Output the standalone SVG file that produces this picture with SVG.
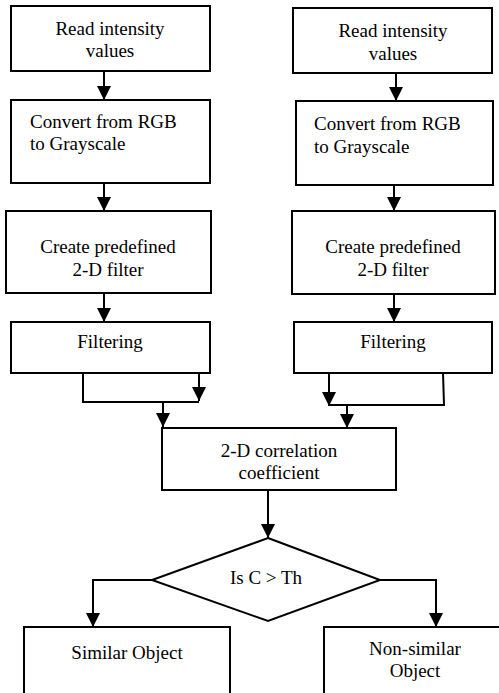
<svg xmlns="http://www.w3.org/2000/svg" width="499" height="693" viewBox="0 0 499 693">
<style>
.box{fill:#fff;stroke:#000;stroke-width:2}
.ln{fill:none;stroke:#000;stroke-width:2}
text{font-size:19px;fill:#000}
.c{text-anchor:middle}
</style>
<defs>
<marker id="ah" markerUnits="userSpaceOnUse" markerWidth="14" markerHeight="14" refX="14" refY="7" orient="auto" viewBox="0 0 14 14">
<path d="M0,0 L14,7 L0,14 z" fill="#000"/>
</marker>
</defs>
<rect width="499" height="693" fill="#fff"/>
<g font-family="Liberation Serif, Tinos, Times New Roman, DejaVu Serif, serif">
<g id="L1"><rect class="box" x="11" y="6" width="199" height="65"/><text class="c" x="110" y="35">Read intensity</text><text class="c" x="110" y="57">values</text></g>
<g id="L2"><rect class="box" x="11" y="100" width="199" height="83"/><text x="30" y="128">Convert from RGB</text><text x="30" y="150">to Grayscale</text></g>
<g id="L3"><rect class="box" x="6" y="211" width="205" height="82"/><text class="c" x="108" y="253">Create predefined</text><text class="c" x="108" y="276">2-D filter</text></g>
<g id="L4"><rect class="box" x="11" y="322" width="199" height="51"/><text class="c" x="110" y="348">Filtering</text></g>
<g id="R1"><rect class="box" x="293" y="8" width="199" height="65"/><text class="c" x="393" y="37">Read intensity</text><text class="c" x="393" y="60">values</text></g>
<g id="R2"><rect class="box" x="296" y="101" width="197" height="84"/><text x="314" y="130">Convert from RGB</text><text x="314" y="153">to Grayscale</text></g>
<g id="R3"><rect class="box" x="292" y="211" width="203" height="83"/><text class="c" x="393" y="253">Create predefined</text><text class="c" x="393" y="276">2-D filter</text></g>
<g id="R4"><rect class="box" x="294" y="322" width="198" height="51"/><text class="c" x="393" y="348">Filtering</text></g>
<g id="corr"><rect class="box" x="162" y="428" width="234" height="62"/><text class="c" x="279" y="457">2-D correlation</text><text class="c" x="279" y="479">coefficient</text></g>
<g id="decision"><polygon class="box" points="268,538 380,580 268,621 152,580"/><text class="c" x="266" y="584">Is C &gt; Th</text></g>
<g id="similar"><rect class="box" x="24" y="627" width="206" height="70"/><text class="c" x="127" y="659">Similar Object</text></g>
<g id="nonsimilar"><rect class="box" x="324" y="627" width="180" height="70"/><text class="c" x="415" y="655">Non-similar</text><text class="c" x="415" y="677">Object</text></g>
</g>
<g id="connectors">
<line class="ln" x1="104" y1="71" x2="104" y2="100" marker-end="url(#ah)"/>
<line class="ln" x1="104" y1="183" x2="104" y2="211" marker-end="url(#ah)"/>
<line class="ln" x1="104" y1="293" x2="104" y2="322" marker-end="url(#ah)"/>
<polyline class="ln" points="83,373 83,402 199,402"/>
<line class="ln" x1="199" y1="373" x2="199" y2="401" marker-end="url(#ah)"/>
<line class="ln" x1="163" y1="403" x2="163" y2="427" marker-end="url(#ah)"/>
<line class="ln" x1="396" y1="73" x2="396" y2="101" marker-end="url(#ah)"/>
<line class="ln" x1="394" y1="185" x2="394" y2="211" marker-end="url(#ah)"/>
<line class="ln" x1="394" y1="294" x2="394" y2="322" marker-end="url(#ah)"/>
<line class="ln" x1="329" y1="373" x2="329" y2="406" marker-end="url(#ah)"/>
<polyline class="ln" points="443,373 444,405 329,405"/>
<line class="ln" x1="347" y1="405" x2="347" y2="428" marker-end="url(#ah)"/>
<line class="ln" x1="268" y1="490" x2="268" y2="538" marker-end="url(#ah)"/>
<polyline class="ln" points="152,580 93,580 93,627" marker-end="url(#ah)"/>
<polyline class="ln" points="380,580 436,580 436,627" marker-end="url(#ah)"/>
</g>
</svg>
